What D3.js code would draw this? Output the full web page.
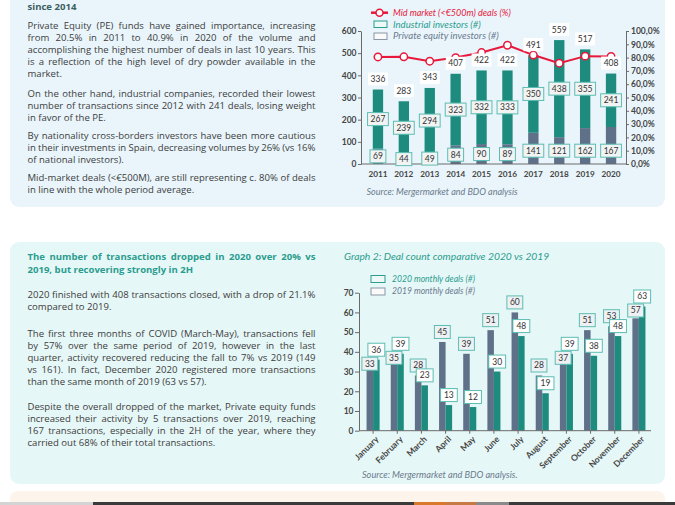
<!DOCTYPE html>
<html><head><meta charset="utf-8">
<script src="https://cdn.jsdelivr.net/npm/d3@7/dist/d3.min.js"></script>
<style>body{margin:0;background:#fff}svg{display:block}</style>
</head><body>
<svg id="c" width="675" height="505"></svg>
<script>
// ---------- data ----------
const years = [2011, 2012, 2013, 2014, 2015, 2016, 2017, 2018, 2019, 2020];
const industrial = [267, 239, 294, 323, 332, 333, 350, 438, 355, 241];
const privateEquity = [69, 44, 49, 84, 90, 89, 141, 121, 162, 167];
const totals = [336, 283, 343, 407, 422, 422, 491, 559, 517, 408];
const midMarketPct = [80.5, 80.6, 77.3, 80.0, 83.8, 89.3, 81.9, 75.8, 81.1, 80.9];
const leftTicks = [0, 100, 200, 300, 400, 500, 600];
const rightTicks = [0, 10, 20, 30, 40, 50, 60, 70, 80, 90, 100];

const months = ["January","February","March","April","May","June","July","August","September","October","November","December"];
const deals2019 = [33, 35, 28, 45, 39, 51, 60, 28, 37, 51, 53, 57];
const deals2020 = [36, 39, 23, 13, 12, 30, 48, 19, 39, 38, 48, 63];
const monthTicks = [0, 10, 20, 30, 40, 50, 60, 70];

// ---------- text content ----------
const topHeading = ["since 2014"];
const topParas = [
  ["Private Equity (PE) funds have gained importance, increasing",
   "from 20.5% in 2011 to 40.9% in 2020 of the volume and",
   "accomplishing the highest number of deals in last 10 years. This",
   "is a reflection of the high level of dry powder available in the",
   "market."],
  ["On the other hand, industrial companies, recorded their lowest",
   "number of transactions since 2012 with 241 deals, losing weight",
   "in favor of the PE."],
  ["By nationality cross-borders investors have been more cautious",
   "in their investments in Spain, decreasing volumes by 26% (vs 16%",
   "of national investors)."],
  ["Mid-market deals (<€500M), are still representing c. 80% of deals",
   "in line with the whole period average."]
];
const bottomHeading = ["The number of transactions dropped in 2020 over 20% vs",
   "2019, but recovering strongly in 2H"];
const bottomParas = [
  ["2020 finished with 408 transactions closed, with a drop of 21.1%",
   "compared to 2019."],
  ["The first three months of COVID (March-May), transactions fell",
   "by 57% over the same period of 2019, however in the last",
   "quarter, activity recovered reducing the fall to 7% vs 2019 (149",
   "vs 161). In fact, December 2020 registered more transactions",
   "than the same month of 2019 (63 vs 57)."],
  ["Despite the overall dropped of the market, Private equity funds",
   "increased their activity by 5 transactions over 2019, reaching",
   "167 transactions, especially in the 2H of the year, where they",
   "carried out 68% of their total transactions."]
];

// ---------- styles ----------
const FONT = "'Open Sans', 'Noto Sans', sans-serif";
const CFONT = "Lato, 'Open Sans', sans-serif";
const TEAL = "#1d8b7e", SLATE = "#5f7189", RED = "#e8183c";
const BOX_TEAL = "#5bbdb2", AXIS = "#6a6a6a", TICKTXT = "#454545";
const BODY = "#3d3d3d", HEAD_TEAL = "#2a9d8f", HEAD_DARK = "#3d5f61";
const SRC = "#6b7a8c";

const svg = d3.select("#c").style("font-family", FONT);

// ---------- background panels ----------
svg.append("rect").attr("x",10).attr("y",-20).attr("width",655).attr("height",227).attr("rx",9).attr("fill","#e9f5fb");
svg.append("rect").attr("x",10).attr("y",242).attr("width",655).attr("height",242).attr("rx",9).attr("fill","#e6f7f7");
svg.append("rect").attr("x",10).attr("y",491).attr("width",655).attr("height",30).attr("rx",8).attr("fill","#fdf4ec");
function strip(x0, x1, c){ svg.append("rect").attr("x",x0).attr("y",502).attr("width",x1-x0).attr("height",3).attr("fill",c); }
strip(0,93,"#d4d4d4"); strip(93,414,"#3a3a3a"); strip(414,446,"#d9792b"); strip(446,476,"#c87a44"); strip(476,509,"#8a8a8a"); strip(509,675,"#3a3a3a");

// ---------- text blocks ----------
const TX = 27.5, TW = 288;
const meas = svg.append("text").style("font-size","10px").text("in line with the whole period average.");
const BFS = 10 * 167 / meas.node().getComputedTextLength();
meas.remove();

function block(lines, yCenter, lh, opts) {
  lines.forEach((ln, i) => {
    const y = yCenter + i * lh + BFS * 0.36;
    const t = svg.append("text").attr("x", TX).attr("y", y)
      .style("font-size", BFS + "px").style("font-weight", opts.bold ? 700 : 400)
      .attr("fill", opts.color);
    const justify = i < lines.length - 1;
    if (!justify) { t.text(ln); return; }
    const words = ln.split(" ");
    const spans = words.map(w => t.append("tspan").text(w));
    const widths = spans.map(s => s.node().getComputedTextLength());
    const gap = (TW - d3.sum(widths)) / (words.length - 1);
    let x = TX;
    spans.forEach((s, j) => { s.attr("x", x); x += widths[j] + gap; });
  });
}
block(topHeading, 7, 12, {bold:true, color:HEAD_DARK});
const topStarts = [26, 94, 136, 178];
topParas.forEach((p, i) => block(p, topStarts[i], 11.9, {color:BODY}));
block(bottomHeading, 256.7, 12.6, {bold:true, color:HEAD_TEAL});
const botStarts = [295, 334, 406.7];
bottomParas.forEach((p, i) => block(p, botStarts[i], 11.9, {color:BODY}));

// helpers
function fit(t, w) {
  t.style("font-family", CFONT);
  const fs = parseFloat(t.style("font-size"));
  const len = t.node().getComputedTextLength();
  t.style("font-size", (fs * w / len) + "px");
  return t;
}
function styleAxis(g, fs) {
  g.selectAll("path,line").attr("stroke", AXIS).attr("stroke-width", 1);
  g.selectAll("text").attr("fill", TICKTXT).style("font-size", (fs || 8.5) + "px")
    .style("font-weight", 700).style("font-family", CFONT);
}
function labelBox(g, cx, cy, txt, o) {
  const gg = g.append("g");
  const r = gg.append("rect");
  const t = gg.append("text").attr("x", cx).attr("y", cy).attr("dy","0.35em").attr("text-anchor","middle")
    .style("font-size", o.fs + "px").style("font-family", CFONT).attr("fill", "#333").text(txt);
  const w = t.node().getComputedTextLength() + o.padX * 2;
  r.attr("x", cx - w/2).attr("y", cy - o.h/2).attr("width", w).attr("height", o.h)
    .attr("fill", o.fill).attr("stroke", o.stroke || "none").attr("stroke-width", 1);
}

// ---------- chart 1 ----------
const g1 = svg.append("g");
const x1 = d3.scaleBand().domain(years).range([365, 624]).paddingInner(0.6).paddingOuter(0.3);
const y1 = d3.scaleLinear().domain([0, 600]).range([164, 31]);
const y1r = d3.scaleLinear().domain([0, 100]).range([164, 31]);
const bw1 = x1.bandwidth();

g1.selectAll("rect.pe").data(years).join("rect").attr("class","pe")
  .attr("x", d => x1(d)).attr("width", bw1)
  .attr("y", (d,i) => y1(privateEquity[i])).attr("height", (d,i) => y1(0) - y1(privateEquity[i]))
  .attr("fill", SLATE);
g1.selectAll("rect.ind").data(years).join("rect").attr("class","ind")
  .attr("x", d => x1(d)).attr("width", bw1)
  .attr("y", (d,i) => y1(privateEquity[i] + industrial[i]))
  .attr("height", (d,i) => y1(privateEquity[i]) - y1(privateEquity[i] + industrial[i]))
  .attr("fill", TEAL);

const ax1L = g1.append("g").attr("transform","translate(361,0)")
  .call(d3.axisLeft(y1).tickValues(leftTicks).tickSize(3).tickSizeOuter(0).tickPadding(1.5));
styleAxis(ax1L, 8.5);
const ax1R = g1.append("g").attr("transform","translate(626,0)")
  .call(d3.axisRight(y1r).tickValues(rightTicks).tickSize(3).tickSizeOuter(0).tickPadding(2)
    .tickFormat(d => d.toFixed(1).replace(".", ",") + "%"));
styleAxis(ax1R, 8.5);
const ax1B = g1.append("g").attr("transform","translate(0,164)")
  .call(d3.axisBottom(x1).tickSize(0).tickSizeOuter(0).tickPadding(7));
ax1B.select(".domain").attr("d","M361,0H626");
styleAxis(ax1B, 8.2);

// line
const cx1 = d => x1(d) + bw1 / 2;
g1.append("path").datum(midMarketPct)
  .attr("d", d3.line().x((d,i) => cx1(years[i])).y(d => y1r(d)))
  .attr("fill","none").attr("stroke", RED).attr("stroke-width", 2);
g1.selectAll("circle.mm").data(midMarketPct).join("circle").attr("class","mm")
  .attr("cx", (d,i) => cx1(years[i])).attr("cy", d => y1r(d)).attr("r", 3.7)
  .attr("fill","#fff").attr("stroke", RED).attr("stroke-width", 1.5);

// labels
years.forEach((yr, i) => {
  const c = cx1(yr);
  labelBox(g1, c, y1(totals[i]) - 10.5, totals[i], {fs:8.5, padX:2.5, h:13, fill:"#fff"});
  const midInd = (y1(privateEquity[i]) + y1(privateEquity[i] + industrial[i])) / 2;
  labelBox(g1, c, midInd, industrial[i], {fs:8.5, padX:3, h:13, fill:"#f2f4f4", stroke:BOX_TEAL});
  const midPe = Math.max((y1(0) + y1(privateEquity[i])) / 2, y1(60));
  labelBox(g1, c, midPe, privateEquity[i], {fs:8.5, padX:3, h:13, fill:"#f2f4f4", stroke:BOX_TEAL});
});

// legend 1
g1.append("line").attr("x1",371).attr("x2",388).attr("y1",12.7).attr("y2",12.7).attr("stroke",RED).attr("stroke-width",2.5);
g1.append("circle").attr("cx",379.5).attr("cy",12.7).attr("r",3.5).attr("fill","#fff").attr("stroke",RED).attr("stroke-width",1.5);
fit(g1.append("text").attr("x",393).attr("y",12.7).attr("dy","0.35em").style("font-style","italic").style("font-size","9px")
  .attr("fill",RED).text("Mid market (<€500m) deals (%)"), 118);
g1.append("rect").attr("x",374).attr("y",21).attr("width",13).attr("height",6.5).attr("fill","#eef8f7").attr("stroke",HEAD_TEAL);
fit(g1.append("text").attr("x",393).attr("y",24.2).attr("dy","0.35em").style("font-style","italic").style("font-size","9px")
  .attr("fill",HEAD_TEAL).text("Industrial investors (#)"), 88);
g1.append("rect").attr("x",374).attr("y",33).attr("width",13).attr("height",6.5).attr("fill","#fafafa").attr("stroke","#8a96a5");
fit(g1.append("text").attr("x",393).attr("y",36).attr("dy","0.35em").style("font-style","italic").style("font-size","9px")
  .attr("fill","#6b7a8f").text("Private equity investors (#)"), 106);
fit(g1.append("text").attr("x",366.5).attr("y",192.3).attr("dy","0.35em").style("font-style","italic").style("font-size","8px")
  .attr("fill",SRC).text("Source: Mergermarket and BDO analysis"), 151.5);

// ---------- chart 2 ----------
const g2 = svg.append("g");
const x2 = d3.scaleBand().domain(months).range([361, 651]).paddingInner(0.46).paddingOuter(0.23);
const xs = d3.scaleBand().domain(["2019","2020"]).range([0, x2.bandwidth()]);
const y2 = d3.scaleLinear().domain([0, 70]).range([430.7, 292.7]);

g2.selectAll("rect.d19").data(months).join("rect").attr("class","d19")
  .attr("x", d => x2(d) + xs("2019")).attr("width", xs.bandwidth())
  .attr("y", (d,i) => y2(deals2019[i])).attr("height", (d,i) => y2(0) - y2(deals2019[i])).attr("fill", SLATE);
g2.selectAll("rect.d20").data(months).join("rect").attr("class","d20")
  .attr("x", d => x2(d) + xs("2020")).attr("width", xs.bandwidth())
  .attr("y", (d,i) => y2(deals2020[i])).attr("height", (d,i) => y2(0) - y2(deals2020[i])).attr("fill", TEAL);

const ax2L = g2.append("g").attr("transform","translate(359,0)")
  .call(d3.axisLeft(y2).tickValues(monthTicks).tickSize(4).tickSizeOuter(0).tickPadding(1.5));
styleAxis(ax2L, 8.5);
const ax2B = g2.append("g").attr("transform", "translate(0," + y2(0) + ")")
  .call(d3.axisBottom(x2).tickSize(3).tickSizeOuter(0).tickFormat(""));
ax2B.select(".domain").attr("d","M359,0H651");
styleAxis(ax2B);
g2.selectAll("text.mon").data(months).join("text").attr("class","mon")
  .attr("transform", d => "translate(" + (x2(d) + x2.bandwidth()/2 + 4) + "," + (y2(0) + 7) + ") rotate(-45)")
  .attr("text-anchor","end").attr("dy","0.35em")
  .style("font-size","8.6px").style("font-weight",700).style("font-family",CFONT).attr("fill",TICKTXT).text(d => d);

// labels (2019 first, 2020 on top)
months.forEach((m, i) => {
  const y20 = y2(deals2020[i]) - 10;
  let y19 = y2(deals2019[i]) - 10;
  if (deals2020[i] >= deals2019[i] && y19 - y20 < 14) y19 = y20 + 14;
  labelBox(g2, x2(m) + xs("2019") + xs.bandwidth()/2, y19, deals2019[i], {fs:8.5, padX:3, h:13, fill:"#eef1f3", stroke:BOX_TEAL});
});
months.forEach((m, i) => {
  labelBox(g2, x2(m) + xs("2020") + xs.bandwidth()/2, y2(deals2020[i]) - 10, deals2020[i], {fs:8.5, padX:3.5, h:13, fill:"#fff", stroke:BOX_TEAL});
});

// title / legend / source
fit(g2.append("text").attr("x",344).attr("y",256.7).attr("dy","0.35em").style("font-style","italic").style("font-size","10px")
  .attr("fill",HEAD_TEAL).text("Graph 2: Deal count comparative 2020 vs 2019"), 205.5);
g2.append("rect").attr("x",371).attr("y",275.5).attr("width",14).attr("height",7).attr("fill","#eef8f7").attr("stroke",HEAD_TEAL);
fit(g2.append("text").attr("x",392).attr("y",278.5).attr("dy","0.35em").style("font-style","italic").style("font-size","9px")
  .attr("fill",HEAD_TEAL).text("2020 monthly deals (#)"), 83);
g2.append("rect").attr("x",371).attr("y",288).attr("width",14).attr("height",7).attr("fill","#fafafa").attr("stroke","#8a96a5");
fit(g2.append("text").attr("x",392).attr("y",291.3).attr("dy","0.35em").style("font-style","italic").style("font-size","9px")
  .attr("fill","#6b7a8f").text("2019 monthly deals (#)"), 83);
fit(g2.append("text").attr("x",362).attr("y",475).attr("dy","0.35em").style("font-style","italic").style("font-size","8px")
  .attr("fill",SRC).text("Source: Mergermarket and BDO analysis."), 156);
</script>
</body></html>
